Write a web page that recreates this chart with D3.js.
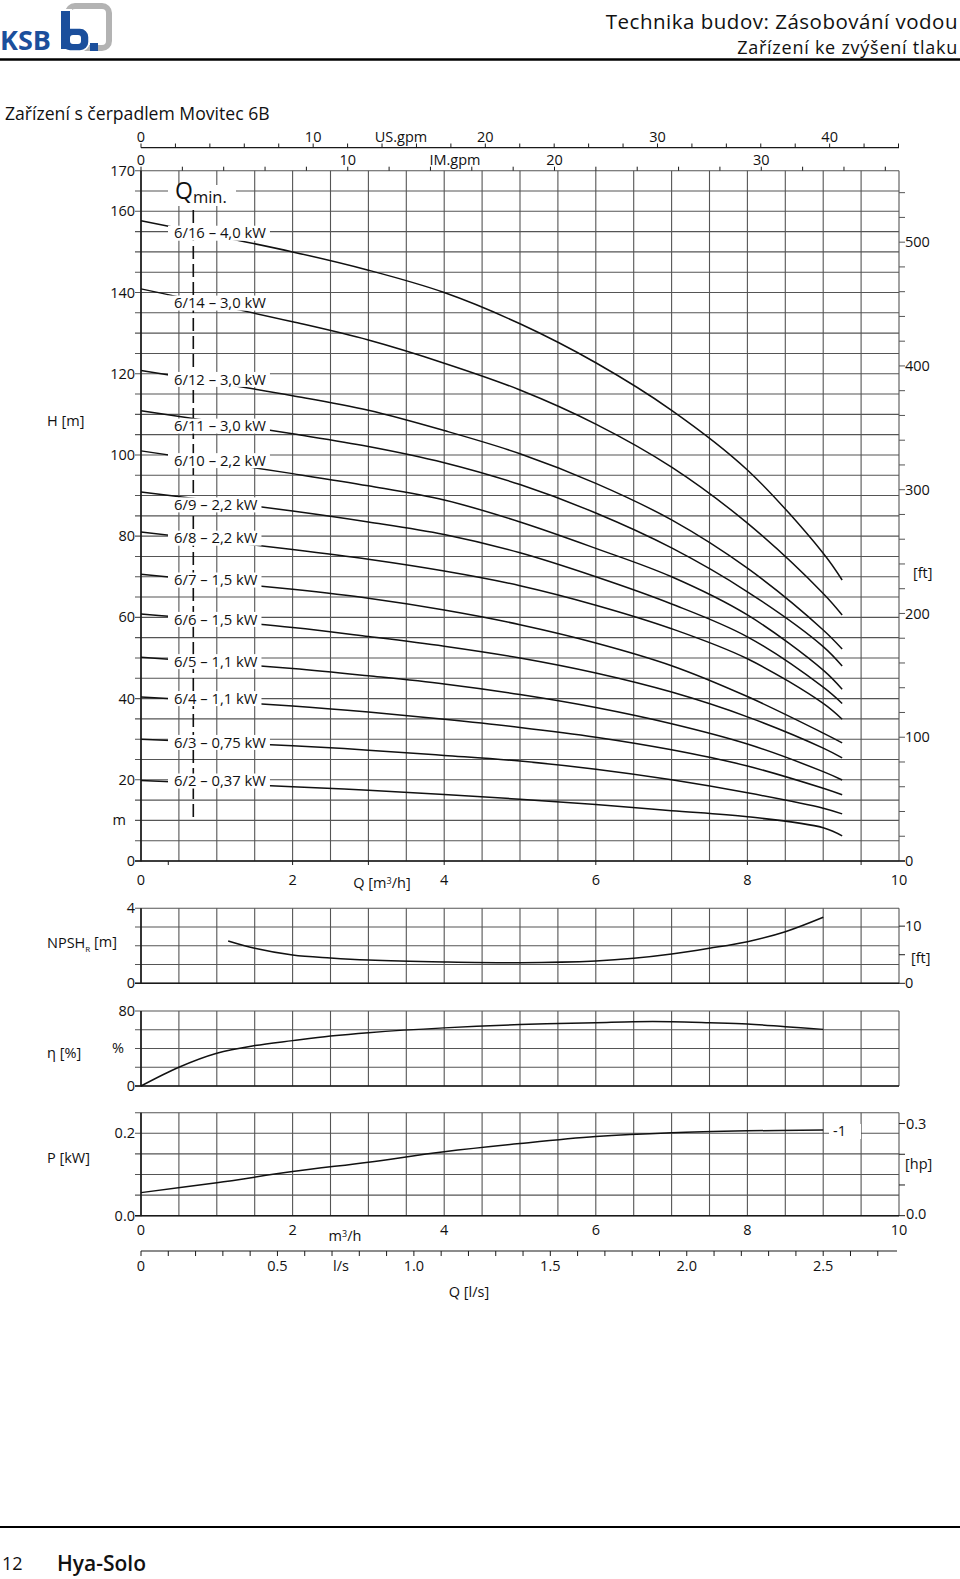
<!DOCTYPE html>
<html><head><meta charset="utf-8">
<script src="https://cdn.jsdelivr.net/npm/d3@7"></script>
<style>
body{margin:0;background:#fff;}
svg text{font-family:"Open Sans","Noto Sans",sans-serif;fill:#111;}
</style></head><body>
<svg id="c" width="960" height="1579"></svg>
<script>
// ---------------- DATA ----------------
const qH = [0, 2, 3, 4, 5, 6, 7, 8, 9, 9.25];
const h6_16 = [157.7, 150.0, 145.5, 140.0, 132.3, 122.7, 111.0, 96.3, 75.8, 69.2];
const h6_14 = [140.9, 132.8, 128.3, 122.6, 116.0, 107.6, 97.0, 83.2, 65.9, 60.6];
const h6_12 = [120.8, 114.6, 111.0, 106.0, 100.3, 93.0, 84.0, 72.1, 56.9, 52.2];
const h6_11 = [110.9, 105.2, 102.1, 98.1, 92.7, 85.7, 77.1, 66.3, 52.8, 48.0];
const h6_10 = [101.0, 95.4, 92.4, 88.9, 83.5, 77.0, 70.0, 60.6, 47.0, 42.3];
const h6_9  = [90.9, 86.2, 83.5, 80.4, 75.9, 70.0, 63.3, 55.2, 42.8, 38.8];
const h6_8  = [81.0, 76.7, 74.3, 71.4, 67.8, 63.0, 57.2, 49.8, 38.8, 34.9];
const h6_7  = [70.6, 66.9, 64.7, 61.8, 58.2, 53.7, 48.1, 40.5, 31.5, 29.1];
const h6_6  = [60.8, 57.5, 55.3, 52.9, 50.0, 46.3, 41.6, 35.5, 27.8, 25.4];
const h6_5  = [50.2, 47.4, 45.6, 43.6, 41.0, 37.8, 33.8, 28.8, 22.0, 19.95];
const h6_4  = [40.4, 38.2, 36.7, 34.9, 32.9, 30.5, 27.4, 23.4, 17.9, 16.3];
const h6_3  = [30.0, 28.4, 27.3, 26.0, 24.6, 22.6, 20.0, 16.8, 13.0, 11.6];
const h6_2  = [19.8, 18.3, 17.4, 16.4, 15.2, 13.9, 12.4, 10.9, 8.2, 6.2];
const pumpNames = ["6/16 – 4,0 kW","6/14 – 3,0 kW","6/12 – 3,0 kW","6/11 – 3,0 kW","6/10 – 2,2 kW",
  "6/9 – 2,2 kW","6/8 – 2,2 kW","6/7 – 1,5 kW","6/6 – 1,5 kW","6/5 – 1,1 kW","6/4 – 1,1 kW",
  "6/3 – 0,75 kW","6/2 – 0,37 kW"];
const hSeries = [h6_16,h6_14,h6_12,h6_11,h6_10,h6_9,h6_8,h6_7,h6_6,h6_5,h6_4,h6_3,h6_2];
const qMin = 0.69;

const qNpsh = [1.15, 1.5, 2, 2.5, 3, 4, 5, 6, 6.5, 7, 7.5, 8, 8.5, 9];
const npsh  = [2.26, 1.87, 1.51, 1.35, 1.24, 1.14, 1.10, 1.19, 1.33, 1.56, 1.87, 2.22, 2.75, 3.52];

const qEff = [0, 0.5, 1, 1.5, 2, 2.5, 3, 4, 5, 6, 6.5, 7, 7.5, 8, 8.5, 9];
const eff  = [0, 20.0, 34.9, 43.1, 48.4, 53.3, 56.9, 62.0, 65.5, 67.5, 68.6, 68.6, 67.5, 66.1, 63.3, 60.4];

const qPow = [0, 1, 2, 3, 4, 5, 6, 7, 8, 9];
const pow  = [0.056, 0.080, 0.107, 0.130, 0.155, 0.175, 0.192, 0.2015, 0.206, 0.208];
const powLabel = "-1";

const hTicks = [0, 20, 40, 60, 80, 100, 120, 140, 160, 170];
const ftTicks = [0, 100, 200, 300, 400, 500];
const qTicks = [0, 2, 4, 6, 8, 10];
const usTicks = [0, 10, 20, 30, 40];
const imTicks = [0, 10, 20, 30];
const lsTicks = [0, 0.5, 1.0, 1.5, 2.0, 2.5];
const npshTicks = [0, 4];
const npshFtTicks = [0, 10];
const effTicks = [0, 80];
const powTicks = [0, 0.2];
const hpTicks = [0, 0.3];

// ---------------- DRAW ----------------
const svg = d3.select("#c");
const GRID = "#555", AX = "#1a1a1a", INK = "#111";
const X0 = 141, X1 = 899;
const x = d3.scaleLinear().domain([0, 10]).range([X0, X1]);
const xUS = d3.scaleLinear().domain([0, 10 / 0.227125]).range([X0, X1]);
const xIM = d3.scaleLinear().domain([0, 10 / 0.272765]).range([X0, X1]);
const xLs = d3.scaleLinear().domain([0, 10 / 3.6]).range([X0, X1]);
const CURVE = d3.curveCatmullRom.alpha(0.5);

function ln(g, x1, y1, x2, y2, col, w, dash) {
  const l = g.append("line").attr("x1", x1).attr("y1", y1).attr("x2", x2).attr("y2", y2)
    .attr("stroke", col).attr("stroke-width", w);
  if (dash) l.attr("stroke-dasharray", dash);
  return l;
}
function tx(g, xx, yy, s, size, anchor, extra) {
  const t = g.append("text").attr("x", xx).attr("y", yy).attr("dy", "0.35em")
    .attr("font-size", size).attr("text-anchor", anchor || "start").text(s);
  if (extra) extra(t);
  return t;
}
const fmt = d => String(d);
const FS = 14.5;

function panelGrid(g, yScale, hStep, yTop, yBot) {
  d3.range(0, 10.001, 0.5).forEach(q => ln(g, x(q), yTop, x(q), yBot, GRID, 1.1));
  const [d0, d1] = yScale.domain();
  d3.range(d0, d1 + hStep / 2, hStep).forEach(v => ln(g, 135, yScale(v), X1, yScale(v), GRID, 1.1));
  ln(g, X0, yTop, X0, yBot + 0.5, AX, 1.6);
  ln(g, 135, yBot, X1, yBot, AX, 1.6);
}

// ======== MAIN H-Q CHART ========
const yH = d3.scaleLinear().domain([0, 170]).range([861, 170.7]);
const yFt = d3.scaleLinear().domain([0, 170 / 0.3048]).range([861, 170.7]);
const gM = svg.append("g");
panelGrid(gM, yH, 5, yH(170), yH(0));
hTicks.forEach(v => tx(gM, 135, yH(v), fmt(v), FS, "end"));
tx(gM, 126, yH(10), "m", FS, "end");
tx(gM, 47, 421, "H [m]", FS, "start");
d3.range(0, 541, 20).forEach(v => ln(gM, X1, yFt(v), X1 + 6, yFt(v), GRID, 1));
ftTicks.forEach(v => tx(gM, 905, yFt(v), fmt(v), FS, "start"));
tx(gM, 913, 573, "[ft]", FS, "start");
ln(gM, X1, yH(0), X1 + 6, yH(0), AX, 1.4);
[0.36, 2, 3, 4, 6, 8, 9.5].forEach(q => ln(gM, x(q), yH(0), x(q), yH(0) + 4, AX, 1));
qTicks.forEach(q => tx(gM, x(q), 880, fmt(q), FS, "middle"));
tx(gM, 382, 883, "Q [m", FS, "middle", t => {
  t.append("tspan").attr("font-size", 9).attr("dy", "-0.5em").text("3");
  t.append("tspan").attr("dy", "0.3em").text("/h]");
});
// top axes
ln(gM, X0, 147.7, X1, 147.7, AX, 1.2);
d3.range(0, 44.1, 2).forEach(v => ln(gM, xUS(v), 147.7, xUS(v), 143.5, AX, 1));
usTicks.forEach(v => tx(gM, xUS(v), 137, fmt(v), FS, "middle"));
tx(gM, 401, 137, "US.gpm", FS, "middle");
d3.range(0, 36.1, 2).forEach(v => ln(gM, xIM(v), yH(170), xIM(v), yH(170) - 4, AX, 1));
imTicks.forEach(v => tx(gM, xIM(v), 160, fmt(v), FS, "middle"));
tx(gM, 455, 160, "IM.gpm", FS, "middle");

// curves
const lineH = d3.line().x(d => x(d[0])).y(d => yH(d[1])).curve(CURVE);
hSeries.forEach(s => {
  gM.append("path").attr("d", lineH(qH.map((q, i) => [q, s[i]])))
    .attr("fill", "none").attr("stroke", INK).attr("stroke-width", 1.5);
});
ln(gM, x(qMin), 210, x(qMin), yH(9.7), INK, 1.6, "13,5");

const labelAnchorsH = [154.6, 137.4, 118.6, 107.1, 98.6, 87.7, 79.5, 69.2, 59.5, 49.1, 40.0, 29.2, 19.7];
pumpNames.forEach((name, i) => {
  const cy = yH(labelAnchorsH[i]);
  const r = gM.append("rect").attr("fill", "#fff");
  const t = tx(gM, 174, cy, name, 14.8, "start");
  const w = t.node().getComputedTextLength();
  r.attr("x", 168).attr("y", cy - 7.5).attr("width", w + 10).attr("height", 15);
});
gM.append("rect").attr("x", 168).attr("y", 185).attr("width", 68).attr("height", 21).attr("fill", "#fff");
gM.append("text").attr("x", 175).attr("y", 199).attr("font-size", 23).text("Q")
  .append("tspan").attr("font-size", 16.5).attr("dy", 4).text("min.");

// ======== NPSH ========
const yN = d3.scaleLinear().domain([0, 4]).range([983.3, 908.3]);
const yNft = d3.scaleLinear().domain([0, 4 / 0.3048]).range([983.3, 908.3]);
const gN = svg.append("g");
panelGrid(gN, yN, 1, yN(4), yN(0));
npshTicks.forEach(v => tx(gN, 135, yN(v), fmt(v), FS, "end"));
[0, 5, 10].forEach(v => ln(gN, X1, yNft(v), X1 + 6, yNft(v), AX, 1));
npshFtTicks.forEach(v => tx(gN, 905, yNft(v), fmt(v), FS, "start"));
tx(gN, 911, 958, "[ft]", FS, "start");
tx(gN, 47, 943, "NPSH", FS, "start", t => {
  t.append("tspan").attr("font-size", 8).attr("dy", "0.45em").text("R");
  t.append("tspan").attr("dy", "-0.3em").text(" [m]");
});
const lineN = d3.line().x(d => x(d[0])).y(d => yN(d[1])).curve(CURVE);
gN.append("path").attr("d", lineN(qNpsh.map((q, i) => [q, npsh[i]])))
  .attr("fill", "none").attr("stroke", INK).attr("stroke-width", 1.5);

// ======== EFFICIENCY ========
const yE = d3.scaleLinear().domain([0, 80]).range([1086, 1011]);
const gE = svg.append("g");
panelGrid(gE, yE, 20, yE(80), yE(0));
effTicks.forEach(v => tx(gE, 135, yE(v), fmt(v), FS, "end"));
tx(gE, 112, 1048, "%", FS, "start");
tx(gE, 47, 1053, "η [%]", FS, "start");
const lineE = d3.line().x(d => x(d[0])).y(d => yE(d[1])).curve(CURVE);
gE.append("path").attr("d", lineE(qEff.map((q, i) => [q, eff[i]])))
  .attr("fill", "none").attr("stroke", INK).attr("stroke-width", 1.5);

// ======== POWER ========
const yP = d3.scaleLinear().domain([0, 0.25]).range([1215.7, 1112.7]);
const yHp = d3.scaleLinear().domain([0, 0.25 / 0.7457]).range([1215.7, 1112.7]);
const gP = svg.append("g");
panelGrid(gP, yP, 0.05, yP(0.25), yP(0));
powTicks.forEach(v => tx(gP, 135, yP(v), d3.format(".1f")(v), FS, "end"));
[0, 0.1, 0.2, 0.3].forEach(v => ln(gP, X1, yHp(v), X1 + 6, yHp(v), AX, 1));
hpTicks.forEach(v => tx(gP, 906, yHp(v) - (v === 0 ? 2 : 0), d3.format(".1f")(v), FS, "start"));
tx(gP, 905, 1164, "[hp]", FS, "start");
tx(gP, 47, 1158, "P [kW]", FS, "start");
const lineP = d3.line().x(d => x(d[0])).y(d => yP(d[1])).curve(CURVE);
gP.append("path").attr("d", lineP(qPow.map((q, i) => [q, pow[i]])))
  .attr("fill", "none").attr("stroke", INK).attr("stroke-width", 1.5);
gP.append("rect").attr("x", 829).attr("y", 1124).attr("width", 32).attr("height", 15).attr("fill", "#fff");
tx(gP, 833, 1131, powLabel, FS, "start");
qTicks.forEach(q => tx(gP, x(q), 1230, fmt(q), FS, "middle"));
tx(gP, 345, 1236, "m", FS, "middle", t => {
  t.append("tspan").attr("font-size", 9).attr("dy", "-0.5em").text("3");
  t.append("tspan").attr("dy", "0.3em").text("/h");
});
ln(gP, X0, 1251, 897, 1251, AX, 1.2);
d3.range(0, 2.71, 0.1).forEach(v => ln(gP, xLs(v), 1251, xLs(v), 1256, AX, 1));
lsTicks.forEach(v => tx(gP, xLs(v), 1266, v === 0 ? "0" : d3.format(".1f")(v), FS, "middle"));
tx(gP, 341, 1266, "l/s", FS, "middle");
tx(gP, 469, 1292, "Q [l/s]", FS, "middle");

// ======== HEADER / FOOTER ========
const gH = svg.append("g");
const BLUE = "#1b4f9c";
gH.append("text").attr("x", 0).attr("y", 50).attr("font-size", 27).attr("font-weight", 700)
  .style("fill", BLUE).text("KSB");
gH.append("rect").attr("x", 68).attr("y", 6).attr("width", 41).attr("height", 42).attr("rx", 7)
  .attr("fill", "none").attr("stroke", "#b3b3b3").attr("stroke-width", 6);
gH.append("rect").attr("x", 59).attr("y", 9).attr("width", 13).attr("height", 43).attr("fill", "#fff");
gH.append("rect").attr("x", 61).attr("y", 28).attr("width", 28).attr("height", 23).attr("rx", 9).attr("fill", BLUE)
  .attr("stroke", "#fff").attr("stroke-width", 1.5);
gH.append("rect").attr("x", 61).attr("y", 11).attr("width", 9).attr("height", 38).attr("fill", BLUE);
gH.append("rect").attr("x", 70).attr("y", 35).attr("width", 11).attr("height", 9).attr("rx", 3).attr("fill", "#fff");
gH.append("rect").attr("x", 90).attr("y", 43).attr("width", 8).attr("height", 8).attr("fill", BLUE);
tx(gH, 958, 21.5, "Technika budov: Zásobování vodou", 20.5, "end", t => t.attr("letter-spacing", 0.5));
tx(gH, 958, 47.5, "Zařízení ke zvýšení tlaku", 18, "end", t => t.attr("letter-spacing", 0.75));
ln(gH, 0, 59.5, 960, 59.5, "#000", 2.5);
tx(gH, 5, 114, "Zařízení s čerpadlem Movitec 6B", 17.6, "start");
ln(gH, 0, 1527, 960, 1527, "#000", 2);
tx(gH, 2, 1564, "12", 18, "start");
tx(gH, 57, 1564, "Hya-Solo", 21, "start", t => t.attr("font-weight", 600));
</script>
</body></html>
